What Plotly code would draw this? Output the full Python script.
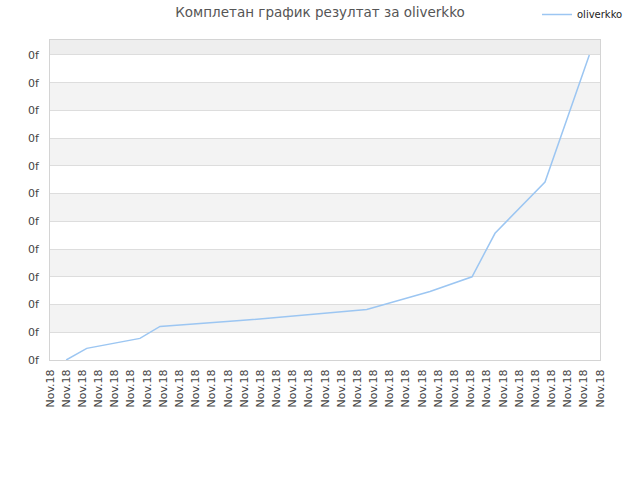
import plotly.graph_objects as go

# Data (x in tick-index units, y in gridline units)
x_vals = [1.0, 2.27, 5.56, 6.80, 11.75, 19.58, 23.49, 26.09, 27.51, 29.88, 30.60, 33.34]
y_vals = [0.0, 0.42, 0.78, 1.21, 1.42, 1.82, 2.47, 3.00, 4.57, 6.01, 6.42, 11.0]
x_tick_labels = ["Nov.18"] * 35
y_tick_labels = ["0f"] * 12
series_name = "oliverkko"
title_text = "Комплетан график резултат за oliverkko"

Y_TOP = 11.54
X_MAX = len(x_tick_labels) - 1

shapes = []
# alternating horizontal bands
for k in range(11):
    if k % 2 == 1:
        shapes.append(dict(type="rect", xref="paper", yref="y", x0=0, x1=1, y0=k, y1=k + 1,
                           fillcolor="#f3f3f3", line_width=0, layer="below"))
shapes.append(dict(type="rect", xref="paper", yref="y", x0=0, x1=1, y0=11, y1=Y_TOP,
                   fillcolor="#eeeeee", line_width=0, layer="below"))

fig = go.Figure()
fig.add_trace(go.Scatter(x=x_vals, y=y_vals, mode="lines", name=series_name,
                         line=dict(color="#9cc6f2", width=1.5)))

W, H = 640, 480
fig.update_layout(
    width=W, height=H,
    margin=dict(l=50, r=40, t=40, b=120, autoexpand=False),
    paper_bgcolor="white", plot_bgcolor="white",
    font=dict(family="DejaVu Sans", size=11, color="#444444"),
    title=dict(text=title_text, x=320 / W, xanchor="center", xref="container",
               y=1 - 12 / H, yanchor="middle", yref="container",
               font=dict(family="DejaVu Sans", size=13.5, color="#555555")),
    showlegend=True,
    legend=dict(x=537 / W, xanchor="left", xref="container", y=1.0, yref="container",
                yanchor="top", itemwidth=30,
                font=dict(family="DejaVu Sans", size=10, color="#222222"),
                bgcolor="rgba(0,0,0,0)"),
    shapes=shapes,
)
fig.update_xaxes(range=[0, X_MAX], tickmode="array", tickvals=list(range(len(x_tick_labels))),
                 ticktext=x_tick_labels, tickangle=-90, showgrid=False, zeroline=False,
                 showline=True, linecolor="#d4d4d4", linewidth=1, mirror=True,
                 ticks="", ticklabelstandoff=4, fixedrange=True)
fig.update_yaxes(range=[0, Y_TOP], tickmode="array", tickvals=list(range(12)),
                 ticktext=y_tick_labels, showgrid=True, gridcolor="#dddddd", gridwidth=1,
                 zeroline=False, showline=True, linecolor="#d4d4d4", linewidth=1, mirror=True,
                 ticks="", ticklabelstandoff=8, fixedrange=True)

fig.write_html("out.html", config={"displayModeBar": False},
               post_script="document.body.style.margin='0';")
